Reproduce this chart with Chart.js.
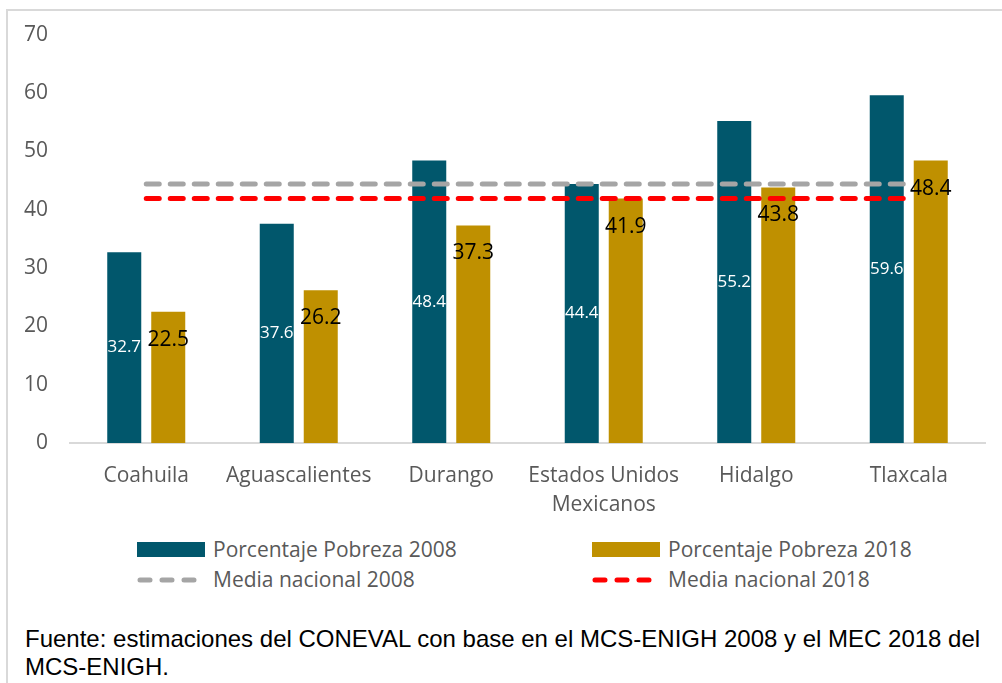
<!DOCTYPE html>
<html>
<head>
<meta charset="utf-8">
<script src="https://cdn.jsdelivr.net/npm/chart.js@4.4.1/dist/chart.umd.min.js"></script>
<style>
    body { margin: 0; background: #fff; width: 1002px; height: 683px; overflow: hidden; position: relative; }
    #frame { position: absolute; left: 6px; top: 9px; width: 1010px; height: 690px; border-left: 2px solid #d9d9d9; border-top: 2px solid #d9d9d9; }
    #wrap { position: absolute; left: 0; top: 0; width: 1002px; height: 525px; }
    .legend { position: absolute; font-family: "Open Sans", sans-serif; font-size: 21px; color: #595959; white-space: nowrap; }
    .legend .sw { position: absolute; }
    #source { position: absolute; left: 25px; top: 625px; font-family: "Liberation Sans", Arial, sans-serif; font-size: 24px; line-height: 28px; color: #000; white-space: nowrap; }
</style>
</head>
<body>
<div id="frame"></div>
<div id="wrap"><canvas id="chart" width="1002" height="525"></canvas></div>

<div class="legend" style="left:137px; top:535px;"><span class="sw" style="left:0; top:7px; width:68px; height:15px; background:#01576C;"></span><span style="margin-left:76px;">Porcentaje Pobreza 2008</span></div>
<div class="legend" style="left:592px; top:535px;"><span class="sw" style="left:0; top:7px; width:68px; height:15px; background:#BF9000;"></span><span style="margin-left:76px;">Porcentaje Pobreza 2018</span></div>
<div class="legend" style="left:135px; top:565px;"><canvas id="lg1" width="72" height="26" class="sw" style="left:0; top:2px;"></canvas><span style="margin-left:78px;">Media nacional 2008</span></div>
<div class="legend" style="left:590px; top:565px;"><canvas id="lg2" width="72" height="26" class="sw" style="left:0; top:2px;"></canvas><span style="margin-left:78px;">Media nacional 2018</span></div>

<div id="source">Fuente: estimaciones del CONEVAL con base en el MCS-ENIGH 2008 y el MEC 2018 del<br>MCS-ENIGH.</div>

<script>
// data
const estados = ['Coahuila', 'Aguascalientes', 'Durango', ['Estados Unidos', 'Mexicanos'], 'Hidalgo', 'Tlaxcala'];
const pobreza2008 = [32.7, 37.6, 48.4, 44.4, 55.2, 59.6];
const pobreza2018 = [22.5, 26.2, 37.3, 41.9, 43.8, 48.4];
const media2008 = [44.4, 44.4, 44.4, 44.4, 44.4, 44.4];
const media2018 = [41.9, 41.9, 41.9, 41.9, 41.9, 41.9];

const TEAL = '#01576C';
const GOLD = '#BF9000';
const GREY = '#A5A5A5';
const RED = '#FF0000';

// legend swatches for the dashed lines
function dashSwatch(id, color) {
    const c = document.getElementById(id).getContext('2d');
    c.strokeStyle = color;
    c.lineWidth = 5;
    c.lineCap = 'round';
    c.setLineDash([10, 12]);
    c.beginPath();
    c.moveTo(5, 13);
    c.lineTo(68, 13);
    c.stroke();
}
dashSwatch('lg1', GREY);
dashSwatch('lg2', RED);

// value labels: 2008 white in the middle of the bar, 2018 black just under the top
const barLabels = {
    id: 'barLabels',
    afterDatasetsDraw(chart) {
        const ctx = chart.ctx;
        ctx.save();
        ctx.textAlign = 'center';
        ctx.textBaseline = 'middle';
        chart.getDatasetMeta(0).data.forEach((bar, i) => {
            ctx.font = '17px "Open Sans"';
            ctx.fillStyle = '#ffffff';
            ctx.fillText(pobreza2008[i].toFixed(1), bar.x, (bar.y + bar.base) / 2);
        });
        chart.getDatasetMeta(1).data.forEach((bar, i) => {
            ctx.font = '21px "Open Sans"';
            ctx.fillStyle = '#000000';
            ctx.fillText(pobreza2018[i].toFixed(1), bar.x, bar.y + 28);
        });
        ctx.restore();
    }
};

new Chart(document.getElementById('chart').getContext('2d'), {
    data: {
        labels: estados,
        datasets: [
            {
                type: 'bar',
                label: 'Porcentaje Pobreza 2008',
                data: pobreza2008,
                backgroundColor: TEAL,
                order: 2,
                categoryPercentage: 0.577,
                barPercentage: 0.773
            },
            {
                type: 'bar',
                label: 'Porcentaje Pobreza 2018',
                data: pobreza2018,
                backgroundColor: GOLD,
                order: 2,
                categoryPercentage: 0.577,
                barPercentage: 0.773
            },
            {
                type: 'line',
                label: 'Media nacional 2008',
                data: media2008,
                borderColor: GREY,
                borderWidth: 5,
                borderDash: [13, 11],
                borderCapStyle: 'round',
                pointRadius: 0,
                fill: false,
                order: 1
            },
            {
                type: 'line',
                label: 'Media nacional 2018',
                data: media2018,
                borderColor: RED,
                borderWidth: 5,
                borderDash: [13, 11],
                borderCapStyle: 'round',
                pointRadius: 0,
                fill: false,
                order: 1
            }
        ]
    },
    options: {
        responsive: false,
        animation: false,
        layout: { padding: { top: 33, right: 17, left: 0, bottom: 0 } },
        plugins: {
            legend: { display: false },
            tooltip: { enabled: false }
        },
        scales: {
            x: {
                grid: { display: false, drawTicks: false },
                border: { display: true, color: '#d9d9d9', width: 2 },
                ticks: {
                    color: '#595959',
                    font: { family: 'Open Sans', size: 21, lineHeight: 1.35 },
                    padding: 19,
                    maxRotation: 0,
                    autoSkip: false
                },
                afterFit: s => { s.height = 525 - 443; }
            },
            y: {
                min: 0,
                max: 70,
                grid: { display: false, drawTicks: false },
                border: { display: false },
                ticks: {
                    stepSize: 10,
                    color: '#595959',
                    font: { family: 'Open Sans', size: 21 },
                    padding: 22
                },
                afterFit: s => { s.width = 70; }
            }
        }
    },
    plugins: [barLabels]
});
</script>
</body>
</html>
